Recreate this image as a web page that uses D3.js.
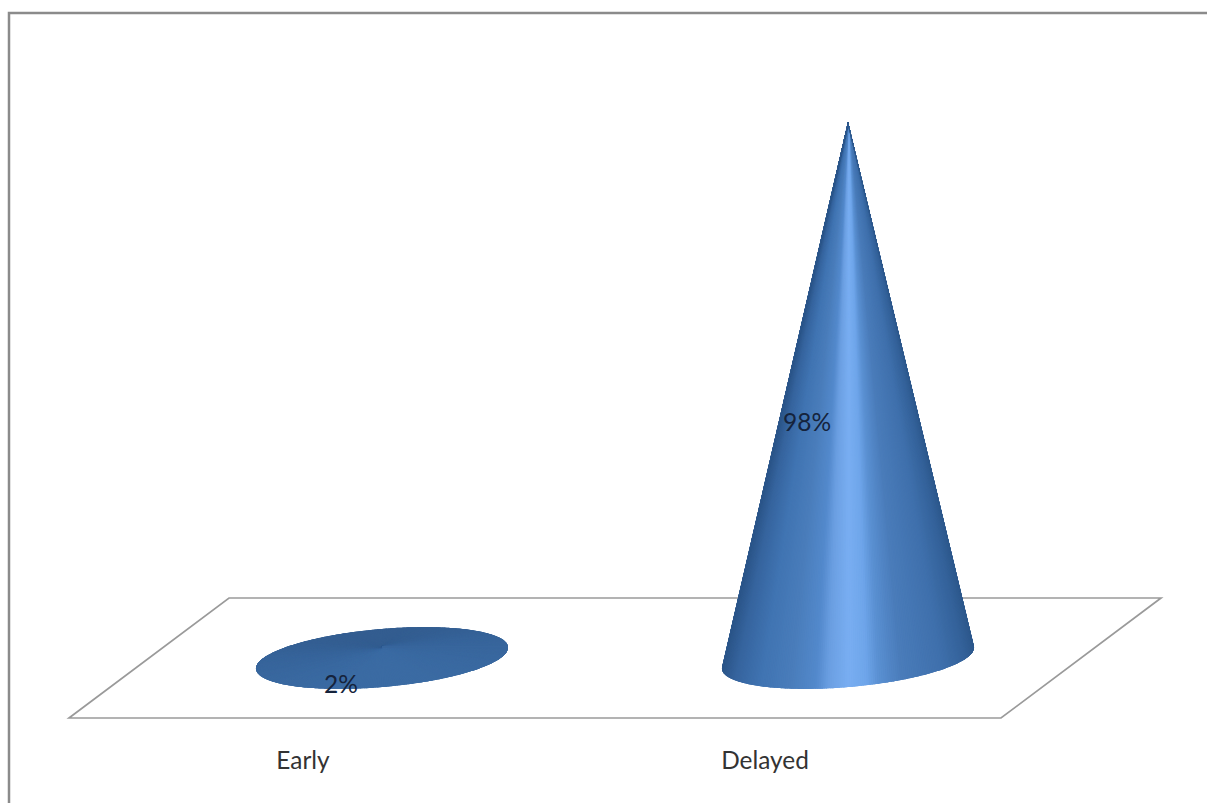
<!DOCTYPE html>
<html>
<head>
<meta charset="utf-8">
<style>
  html, body { margin: 0; padding: 0; background: #fff; overflow: hidden; }
  svg { display: block; }
  text { font-family: Lato, "Open Sans", sans-serif; }
</style>
<script src="https://cdn.jsdelivr.net/npm/d3@7/dist/d3.min.js"></script>
</head>
<body>
<div id="chart"></div>
<script>
// Share of cases by onset, drawn as 3-D cones standing on a floor plane
const categories = ["Early", "Delayed"];
const percentages = [2, 98];
const valueDomain = [0, 98];

const width = 1207, height = 803;
const floorFront = { left: 69, right: 1001, y: 718 };
const floorDepth = { dx: 160, dy: -120 };
const baseEllipse = { a: 126.5, b: 29, tilt: -5 * Math.PI / 180 };
const tickNudge = [1, -3];

// Colour across the lit cone, from left silhouette to right silhouette
const coneRamp = d3.scaleLinear()
  .domain([0, 0.05, 0.15, 0.27, 0.37, 0.42, 0.5, 0.57, 0.62, 0.71, 0.87, 0.96, 1])
  .range(["#2c568a", "#36649e", "#4074b2", "#4a7dbb", "#5389cc", "#6b9fe2", "#79aef2", "#6ea5ea", "#5a90d2", "#4a7cba", "#3f70ac", "#34629a", "#2d588c"]);
// Colour of a cone so short it is seen from above: back to front
const flatRamp = d3.scaleLinear().domain([0, 0.3, 1]).range(["#335d90", "#37649a", "#3b6ba3"]);

const svg = d3.select("#chart").append("svg").attr("width", width).attr("height", height);
const defs = svg.append("defs");

const x = d3.scaleBand().domain(categories).range([floorFront.left, floorFront.right]);
const baseY = floorFront.y + floorDepth.dy / 2;
const y = d3.scaleLinear().domain(valueDomain).range([baseY, 122]);
const centerX = c => x(c) + x.bandwidth() / 2 + floorDepth.dx / 2;

// Chart frame: only the top and left edges fall inside the window
svg.append("path")
  .attr("d", `M9,${height}V13H${width}`)
  .attr("fill", "none").attr("stroke", "#8b8b8b").attr("stroke-width", 2.5);

// Floor plane
const floor = d3.path();
floor.moveTo(floorFront.left, floorFront.y);
floor.lineTo(floorFront.right, floorFront.y);
floor.lineTo(floorFront.right + floorDepth.dx, floorFront.y + floorDepth.dy);
floor.lineTo(floorFront.left + floorDepth.dx, floorFront.y + floorDepth.dy);
floor.closePath();
svg.append("path").attr("d", floor.toString())
  .attr("fill", "#fff").attr("stroke", "#9a9a9a").attr("stroke-width", 1.7);

// Point on the tilted base ellipse of a cone
function rim(cx, t) {
  const { a, b, tilt } = baseEllipse;
  const ex = a * Math.cos(t), ey = b * Math.sin(t);
  return [cx + ex * Math.cos(tilt) - ey * Math.sin(tilt),
          baseY + ex * Math.sin(tilt) + ey * Math.cos(tilt)];
}

const steps = d3.range(360);
categories.forEach((cat, i) => {
  const cx = centerX(cat);
  const apex = [cx, y(percentages[i])];
  const ring = steps.map(d => rim(cx, d * Math.PI / 180));
  const hull = d3.polygonHull([...ring, apex]);
  const xMin = d3.min(ring, p => p[0]), xMax = d3.max(ring, p => p[0]);
  const flat = d3.polygonContains(ring, apex);
  const outline = new Set(hull.map(String));

  defs.append("clipPath").attr("id", `cone-${i}`)
    .append("path").attr("d", "M" + hull.join("L") + "Z");

  // Fan of facets from the apex to the rim; a tall cone shows only its front arc
  const facets = steps
    .filter(d => flat || (outline.has(String(ring[d])) || outline.has(String(ring[(d + 1) % 360]))))
    .map(d => {
      const p = ring[d], q = ring[(d + 1) % 360];
      const depth = Math.sin((d + 0.5) * Math.PI / 180);
      return {
        p, q,
        color: flat ? flatRamp((depth + 1) / 2) : coneRamp(((p[0] + q[0]) / 2 - xMin) / (xMax - xMin))
      };
    });

  svg.append("g").attr("clip-path", `url(#cone-${i})`)
    .selectAll("path").data(facets).join("path")
    .attr("d", f => `M${apex}L${f.p}L${f.q}Z`)
    .attr("fill", f => f.color)
    .attr("stroke", f => f.color)
    .attr("stroke-width", 1.6);

  // Value label sits at mid-height, dropped by the base ellipse's half height
  svg.append("text")
    .attr("x", cx - 41)
    .attr("y", (apex[1] + baseY) / 2 + 32)
    .attr("dy", "0.35em")
    .attr("text-anchor", "middle")
    .attr("font-size", 24.5)
    .attr("fill", "#15233c")
    .text(percentages[i] + "%");
});

// Category axis along the front edge of the floor
const axis = svg.append("g")
  .attr("transform", `translate(0,${floorFront.y})`)
  .call(d3.axisBottom(x).tickSize(0).tickPadding(34));
axis.select(".domain").remove();
axis.selectAll("text")
  .attr("dx", (d, i) => tickNudge[i])
  .attr("font-size", 24.4)
  .attr("fill", "#333")
  .style("font-family", "Lato, 'Open Sans', sans-serif");
</script>
</body>
</html>
